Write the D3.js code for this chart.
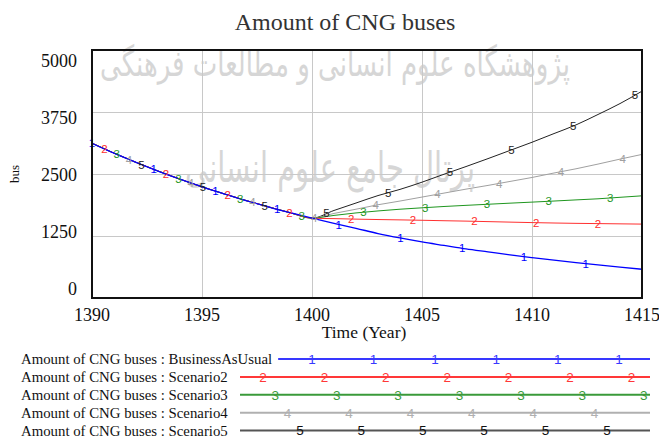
<!DOCTYPE html>
<html>
<head>
<meta charset="utf-8">
<script src="https://cdn.jsdelivr.net/npm/d3@7"></script>
<style>
    body { margin: 0; background: #ffffff; }
    svg { display: block; }
</style>
</head>
<body>
<div id="chart"></div>
<script>
// Vensim style run comparison chart

var years = [1390, 1391, 1392, 1393, 1394, 1395, 1396, 1397, 1398, 1399, 1400,
             1401, 1402, 1403, 1404, 1405, 1406, 1407, 1408, 1409, 1410,
             1411, 1412, 1413, 1414, 1415];

// 1390..1399, same for every run
var historyValues = [3120, 2920, 2735, 2560, 2395, 2240, 2100, 1965, 1840, 1720];

// 1400..1415 per run
var businessAsUsual = [1610, 1505, 1405, 1300, 1210, 1130, 1060, 990, 930, 870, 815, 762, 712, 666, 622, 580];
var scenario2 = [1610, 1600, 1590, 1582, 1575, 1567, 1558, 1550, 1540, 1530, 1520, 1512, 1505, 1500, 1495, 1490];
var scenario3 = [1610, 1665, 1715, 1755, 1790, 1818, 1845, 1868, 1890, 1912, 1933, 1955, 1978, 2000, 2030, 2060];
var scenario4 = [1610, 1705, 1790, 1880, 1955, 2035, 2115, 2195, 2270, 2350, 2430, 2520, 2605, 2700, 2800, 2895];
var scenario5 = [1610, 1765, 1915, 2065, 2190, 2335, 2495, 2650, 2810, 2975, 3140, 3315, 3490, 3700, 3920, 4170];

var runNames = ["BusinessAsUsual", "Scenario2", "Scenario3", "Scenario4", "Scenario5"];
var runLabels = ["1", "2", "3", "4", "5"];
var lineColors = ["#0000ff", "#ff3030", "#1f961f", "#a0a0a0", "#222222"];
var legendColors = ["#3838ff", "#ff3838", "#3a9a3a", "#b0b0b0", "#555555"];

var xTicks = [1390, 1395, 1400, 1405, 1410, 1415];
var yTicks = [0, 1250, 2500, 3750, 5000];

var titleText = "Amount of CNG buses";
var xTitle = "Time (Year)";
var yTitle = "bus";
var watermarkLines = ["پژوهشگاه علوم انسانی و مطالعات فرهنگی", "پرتال جامع علوم انسانی"];

var options = {
    width: 659,
    height: 438,
    plot: { left: 92, right: 642, top: 50, bottom: 298 },
    serif: "'Liberation Serif', 'Times New Roman', serif",
    sans: "'Liberation Sans', Arial, sans-serif",
    markerStep: 12.34,
    legendTop: 359,
    legendRow: 17.9
};

var runs = [businessAsUsual, scenario2, scenario3, scenario4, scenario5].map(function(tail, i) {
    var values = historyValues.concat(tail);
    return {
        name: runNames[i],
        label: runLabels[i],
        color: lineColors[i],
        values: years.map(function(y, j) { return { year: y, value: values[j] }; })
    };
});

var p = options.plot;
var svg = d3.select("#chart").append("svg")
    .attr("width", options.width)
    .attr("height", options.height);

var xScale = d3.scaleLinear().domain([1390, 1415]).range([p.left, p.right]);
var yScale = d3.scaleLinear().domain([0, 5000]).range([p.bottom, p.top]);
// Vensim squeezes the value labels a bit compared to the grid
var yLabelScale = d3.scaleLinear().domain([0, 5000]).range([289, 61]);

// faint scanned watermark behind the chart
var wm = svg.append("g").attr("class", "watermark")
    .attr("fill", "#d6d6d6")
    .attr("font-family", "'DejaVu Sans', sans-serif");
wm.append("text")
    .attr("x", 335).attr("y", 76)
    .attr("text-anchor", "middle")
    .attr("font-size", 36)
    .attr("textLength", 470)
    .attr("lengthAdjust", "spacingAndGlyphs")
    .text(watermarkLines[0]);
wm.append("text")
    .attr("x", 330).attr("y", 182)
    .attr("text-anchor", "middle")
    .attr("font-size", 42)
    .attr("textLength", 290)
    .attr("lengthAdjust", "spacingAndGlyphs")
    .text(watermarkLines[1]);

// grid
svg.append("g")
    .attr("class", "grid x")
    .attr("transform", "translate(0," + p.bottom + ")")
    .call(d3.axisBottom(xScale).tickValues(xTicks.slice(1, -1)).tickSize(p.top - p.bottom).tickFormat(""))
    .call(function(g) {
        g.select(".domain").remove();
        g.selectAll("line").attr("stroke", "#c8c8c8");
    });
svg.append("g")
    .attr("class", "grid y")
    .attr("transform", "translate(" + p.left + ",0)")
    .call(d3.axisLeft(yScale).tickValues(yTicks.slice(1, -1)).tickSize(p.left - p.right).tickFormat(""))
    .call(function(g) {
        g.select(".domain").remove();
        g.selectAll("line").attr("stroke", "#c8c8c8");
    });

svg.append("defs").append("clipPath")
    .attr("id", "clip")
    .append("rect")
    .attr("x", p.left).attr("y", p.top)
    .attr("width", p.right - p.left)
    .attr("height", p.bottom - p.top);

var line = d3.line()
    .curve(d3.curveMonotoneX)
    .x(function(d) { return xScale(d.year); })
    .y(function(d) { return yScale(d.value); });

function valueAt(run, t) {
    var i = Math.max(0, Math.min(d3.bisector(function(d) { return d.year; }).right(run.values, t) - 1, run.values.length - 2));
    var a = run.values[i], b = run.values[i + 1];
    var f = (t - a.year) / (b.year - a.year);
    return a.value + (b.value - a.value) * f;
}

// draw run 5 first so BusinessAsUsual sits on top of the shared history
var plotG = svg.append("g").attr("clip-path", "url(#clip)");
var runOrder = runs.slice().reverse();

plotG.selectAll("path.run")
    .data(runOrder)
    .enter()
    .append("path")
    .attr("class", "run")
    .attr("d", function(d) { return line(d.values); })
    .attr("fill", "none")
    .attr("stroke", function(d) { return d.color; })
    .attr("stroke-width", function(d) { return d.label === "1" ? 1.3 : 1; });

// number markers, staggered along x like Vensim does
runs.forEach(function(run, i) {
    var marks = [];
    for (var px = p.left + options.markerStep * i; px <= p.right + 1; px += options.markerStep * 5) {
        var t = xScale.invert(px);
        marks.push({ year: t, value: valueAt(run, Math.min(t, 1415)) });
    }
    svg.append("g")
        .selectAll("text")
        .data(marks)
        .enter()
        .append("text")
        .attr("x", function(d) { return xScale(d.year); })
        .attr("y", function(d) { return yScale(d.value); })
        .attr("dy", "0.36em")
        .attr("text-anchor", "middle")
        .attr("font-family", options.sans)
        .attr("font-size", 11.5)
        .attr("fill", run.color)
        .text(run.label);
});

// frame
svg.append("rect")
    .attr("x", p.left).attr("y", p.top)
    .attr("width", p.right - p.left)
    .attr("height", p.bottom - p.top)
    .attr("fill", "none")
    .attr("stroke", "#111")
    .attr("stroke-width", 2);

// tick labels
svg.append("g")
    .selectAll("text")
    .data(yTicks)
    .enter()
    .append("text")
    .attr("x", 77)
    .attr("y", function(d) { return yLabelScale(d); })
    .attr("dy", "0.35em")
    .attr("text-anchor", "end")
    .attr("font-family", options.serif)
    .attr("font-size", 18)
    .attr("fill", "#111")
    .text(function(d) { return d; });

svg.append("g")
    .selectAll("text")
    .data(xTicks)
    .enter()
    .append("text")
    .attr("x", function(d) { return xScale(d); })
    .attr("y", 321)
    .attr("text-anchor", "middle")
    .attr("font-family", options.serif)
    .attr("font-size", 18)
    .attr("fill", "#111")
    .text(function(d) { return d; });

// titles
svg.append("text")
    .attr("x", 345).attr("y", 30)
    .attr("text-anchor", "middle")
    .attr("font-family", options.serif)
    .attr("font-size", 24)
    .attr("fill", "#333")
    .text(titleText);

svg.append("text")
    .attr("x", 364).attr("y", 338)
    .attr("text-anchor", "middle")
    .attr("font-family", options.serif)
    .attr("font-size", 17.5)
    .attr("fill", "#111")
    .text(xTitle);

svg.append("text")
    .attr("transform", "translate(19,174) rotate(-90)")
    .attr("text-anchor", "middle")
    .attr("font-family", options.serif)
    .attr("font-size", 13)
    .attr("fill", "#111")
    .text(yTitle);

// legend
var legendRight = 650;
runs.forEach(function(run, i) {
    var y = options.legendTop + i * options.legendRow;
    var row = svg.append("g").attr("class", "legend-row");
    var label = row.append("text")
        .attr("x", 21).attr("y", y)
        .attr("dy", "0.35em")
        .attr("font-family", options.serif)
        .attr("font-size", 14.8)
        .attr("fill", "#111")
        .text("Amount of CNG buses : " + run.name);
    var start = Math.max(240, 21 + label.node().getComputedTextLength() + 6);
    row.append("line")
        .attr("x1", start).attr("x2", legendRight)
        .attr("y1", y).attr("y2", y)
        .attr("stroke", legendColors[i])
        .attr("stroke-width", 2);
    var xs = [];
    for (var x = 250.7 + 12.3 * i; x <= legendRight - 4; x += 61.4) {
        if (x >= start + 4) xs.push(x);
    }
    row.selectAll("text.mark")
        .data(xs)
        .enter()
        .append("text")
        .attr("class", "mark")
        .attr("x", function(d) { return d; })
        .attr("y", y)
        .attr("dy", "0.36em")
        .attr("text-anchor", "middle")
        .attr("font-family", options.sans)
        .attr("font-size", 13.5)
        .attr("fill", i === 4 ? "#111" : legendColors[i])
        .text(run.label);
});
</script>
</body>
</html>
